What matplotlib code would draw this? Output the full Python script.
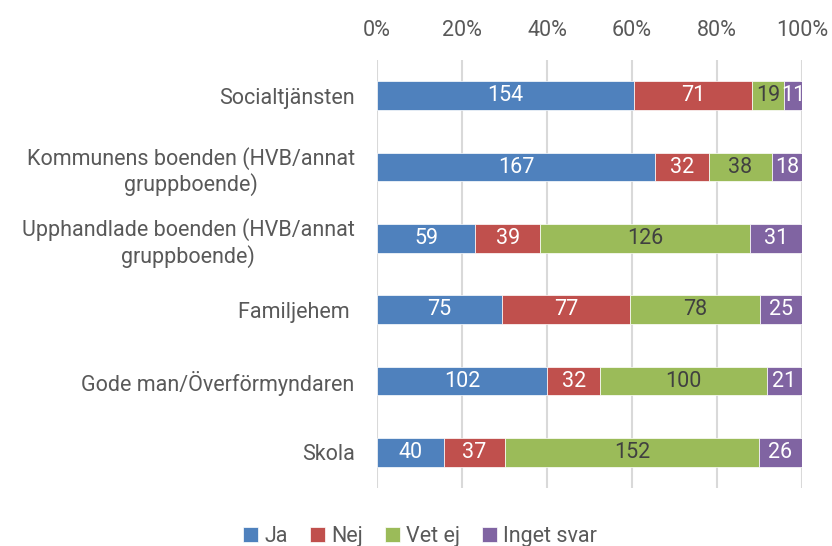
import matplotlib.pyplot as plt
import numpy as np

plt.rcParams['font.family'] = ['Roboto', 'DejaVu Sans']

# Data
categories = ['Socialtjänsten',
              'Kommunens boenden (HVB/annat\ngruppboende)',
              'Upphandlade boenden (HVB/annat\ngruppboende)',
              'Familjehem ',
              'Gode man/Överförmyndaren',
              'Skola']
ja = [154, 167, 59, 75, 102, 40]
nej = [71, 32, 39, 77, 32, 37]
vet_ej = [19, 38, 126, 78, 100, 152]
inget_svar = [11, 18, 31, 25, 21, 26]

series = [('Ja', ja, '#4F81BD', 'white'),
          ('Nej', nej, '#C0504D', 'white'),
          ('Vet ej', vet_ej, '#9BBB59', '#404040'),
          ('Inget svar', inget_svar, '#8064A2', 'white')]

totals = np.array(ja) + np.array(nej) + np.array(vet_ej) + np.array(inget_svar)
y = np.arange(len(categories))
fs = 15.5

fig = plt.figure(figsize=(8.32, 5.46), dpi=100)
ax = fig.add_axes([0.453, 0.106, 0.511, 0.784])

left = np.zeros(len(categories))
for name, vals, color, tcolor in series:
    frac = np.array(vals) / totals
    bars = ax.barh(y, frac, left=left, height=0.4, color=color, label=name,
                   edgecolor='white', linewidth=0.5, zorder=3)
    ax.bar_label(bars, labels=[str(v) for v in vals], label_type='center',
                 color=tcolor, fontsize=fs)
    left += frac

ax.set_xlim(0, 1)
ax.set_ylim(len(categories) - 0.5, -0.5)
ax.set_yticks(y)
ax.set_yticklabels(categories, fontsize=fs, color='#595959', ha='right',
                   multialignment='center')
ax.tick_params(axis='y', length=0, pad=16)
ax.xaxis.tick_top()
ax.set_xticks(np.linspace(0, 1, 6))
ax.set_xticklabels(['0%', '20%', '40%', '60%', '80%', '100%'], fontsize=fs, color='#595959')
ax.tick_params(axis='x', length=0, pad=14)
ax.grid(axis='x', color='#D9D9D9', linewidth=1.5, zorder=0)
for s in ax.spines.values():
    s.set_visible(False)

fig.legend(loc='center', bbox_to_anchor=(0.505, 0.018), ncol=4, frameon=False,
           fontsize=fs, handlelength=0.7, handleheight=0.7, handletextpad=0.3,
           columnspacing=1.0, labelcolor='#595959', borderaxespad=0)

fig.savefig('out.png', dpi=100)
